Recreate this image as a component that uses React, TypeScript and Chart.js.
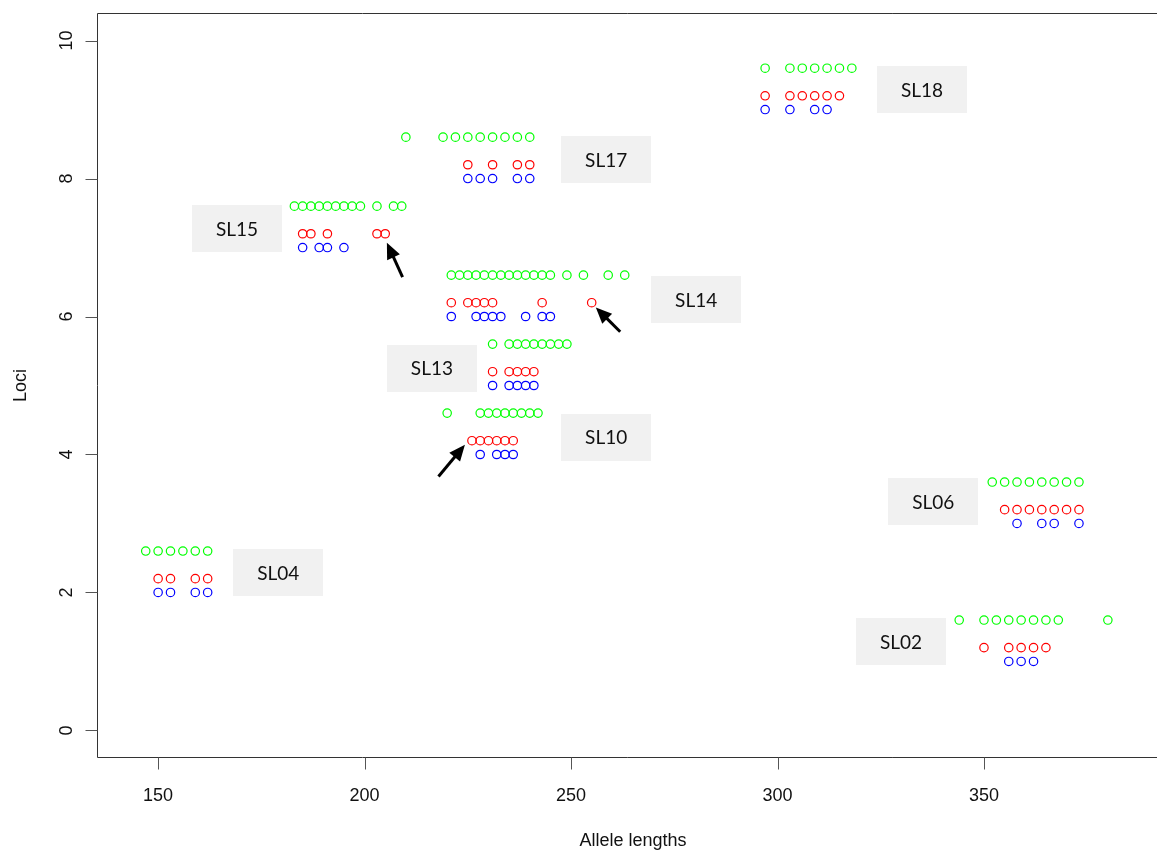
import React, { useEffect, useRef } from "react";
import { Chart, registerables } from "chart.js";

Chart.register(...registerables);

// ---- Data ----
const loci = ["SL02", "SL04", "SL06", "SL10", "SL13", "SL14", "SL15", "SL17", "SL18"];
const locusLevels = [1, 2, 3, 4, 5, 6, 7, 8, 9];

const greenAlleles = [
  [344, 350, 353, 356, 359, 362, 365, 368, 380],
  [147, 150, 153, 156, 159, 162],
  [352, 355, 358, 361, 364, 367, 370, 373],
  [220, 228, 230, 232, 234, 236, 238, 240, 242],
  [231, 235, 237, 239, 241, 243, 245, 247, 249],
  [221, 223, 225, 227, 229, 231, 233, 235, 237, 239, 241, 243, 245, 249, 253, 259, 263],
  [183, 185, 187, 189, 191, 193, 195, 197, 199, 203, 207, 209],
  [210, 219, 222, 225, 228, 231, 234, 237, 240],
  [297, 303, 306, 309, 312, 315, 318],
];
const redAlleles = [
  [350, 356, 359, 362, 365],
  [150, 153, 159, 162],
  [355, 358, 361, 364, 367, 370, 373],
  [226, 228, 230, 232, 234, 236],
  [231, 235, 237, 239, 241],
  [221, 225, 227, 229, 231, 243, 255],
  [185, 187, 191, 203, 205],
  [225, 231, 237, 240],
  [297, 303, 306, 309, 312, 315],
];
const blueAlleles = [
  [356, 359, 362],
  [150, 153, 159, 162],
  [358, 364, 367, 373],
  [228, 232, 234, 236],
  [231, 235, 237, 239, 241],
  [221, 227, 229, 231, 233, 239, 243, 245],
  [185, 189, 191, 195],
  [225, 228, 231, 237, 240],
  [297, 303, 309, 312],
];
const greenOffset = 0.6;
const redOffset = 0.2;
const blueOffset = 0;

// label anchors (data coordinates)
const labelX = [329.9, 179.1, 337.7, 258.5, 216.3, 280.3, 169.1, 258.5, 335.0];
const labelY = [1.29, 2.29, 3.32, 4.25, 5.25, 6.24, 7.27, 8.27, 9.29];

// arrows (data coordinates)
const arrowTipX = [205.4, 256.0, 224.3];
const arrowTipY = [7.07, 6.13, 4.14];
const arrowTailX = [209.2, 261.9, 217.9];
const arrowTailY = [6.57, 5.78, 3.68];

const xTicks = [150, 200, 250, 300, 350];
const yTicks = [0, 2, 4, 6, 8, 10];
const xMin = 135.2;
const xMax = 391.9;
const yMin = -0.4;
const yMax = 10.4;
const xTitle = "Allele lengths";
const yTitle = "Loci";

function buildPoints(alleles: number[][], offset: number) {
  const pts: { x: number; y: number }[] = [];
  alleles.forEach((row, i) => {
    row.forEach((v) => pts.push({ x: v, y: locusLevels[i] + offset }));
  });
  return pts;
}

const decorPlugin = {
  id: "decor",
  afterDraw(chart: any) {
    const ctx = chart.ctx as CanvasRenderingContext2D;
    const xs = chart.scales.x;
    const ys = chart.scales.y;
    const a = chart.chartArea;
    ctx.save();

    // box (left, top, bottom)
    ctx.strokeStyle = "#333";
    ctx.lineWidth = 1;
    ctx.beginPath();
    ctx.moveTo(a.right + 2, Math.round(a.top) + 0.5);
    ctx.lineTo(Math.round(a.left) + 0.5, Math.round(a.top) + 0.5);
    ctx.lineTo(Math.round(a.left) + 0.5, Math.round(a.bottom) - 0.5);
    ctx.lineTo(a.right + 2, Math.round(a.bottom) - 0.5);
    ctx.stroke();

    // ticks
    ctx.strokeStyle = "#555";
    ctx.beginPath();
    xTicks.forEach((t) => {
      const px = Math.round(xs.getPixelForValue(t)) + 0.5;
      ctx.moveTo(px, Math.round(a.bottom) - 0.5);
      ctx.lineTo(px, Math.round(a.bottom) + 11.5);
    });
    yTicks.forEach((t) => {
      const py = Math.round(ys.getPixelForValue(t)) + 0.5;
      ctx.moveTo(Math.round(a.left) + 0.5, py);
      ctx.lineTo(Math.round(a.left) - 11.5, py);
    });
    ctx.stroke();

    // tick labels
    ctx.fillStyle = "#111";
    ctx.font = "18px 'Liberation Sans', Arial, sans-serif";
    ctx.textAlign = "center";
    ctx.textBaseline = "alphabetic";
    xTicks.forEach((t) => {
      ctx.fillText(String(t), xs.getPixelForValue(t), 801);
    });
    yTicks.forEach((t) => {
      ctx.save();
      ctx.translate(72, ys.getPixelForValue(t));
      ctx.rotate(-Math.PI / 2);
      ctx.fillText(String(t), 0, 0);
      ctx.restore();
    });

    // axis titles
    ctx.fillText(xTitle, 633, 846);
    ctx.save();
    ctx.translate(25.5, (a.top + a.bottom) / 2);
    ctx.rotate(-Math.PI / 2);
    ctx.fillText(yTitle, 0, 0);
    ctx.restore();

    // locus label boxes
    const bw = 90;
    const bh = 47;
    loci.forEach((name, i) => {
      const cx = xs.getPixelForValue(labelX[i]);
      const cy = ys.getPixelForValue(labelY[i]);
      ctx.fillStyle = "#f1f1f1";
      ctx.fillRect(Math.round(cx - bw / 2), Math.round(cy - bh / 2), bw, bh);
      ctx.fillStyle = "#111";
      ctx.font = "19px Lato, 'Open Sans', sans-serif";
      ctx.textAlign = "center";
      ctx.textBaseline = "middle";
      ctx.fillText(name, cx, cy + 1);
    });

    // arrows
    ctx.strokeStyle = "#000";
    ctx.fillStyle = "#000";
    ctx.lineWidth = 3;
    arrowTipX.forEach((_, i) => {
      const tx = xs.getPixelForValue(arrowTipX[i]);
      const ty = ys.getPixelForValue(arrowTipY[i]);
      const sx = xs.getPixelForValue(arrowTailX[i]);
      const sy = ys.getPixelForValue(arrowTailY[i]);
      const ang = Math.atan2(ty - sy, tx - sx);
      const headLen = 16;
      const headHalf = 7;
      const bx = tx - headLen * Math.cos(ang);
      const by = ty - headLen * Math.sin(ang);
      ctx.beginPath();
      ctx.moveTo(sx, sy);
      ctx.lineTo(bx + 2 * Math.cos(ang), by + 2 * Math.sin(ang));
      ctx.stroke();
      ctx.beginPath();
      ctx.moveTo(tx, ty);
      ctx.lineTo(bx + headHalf * Math.sin(ang), by - headHalf * Math.cos(ang));
      ctx.lineTo(bx - headHalf * Math.sin(ang), by + headHalf * Math.cos(ang));
      ctx.closePath();
      ctx.fill();
    });

    ctx.restore();
  },
};

export default function App() {
  const canvasRef = useRef<HTMLCanvasElement | null>(null);

  useEffect(() => {
    if (!canvasRef.current) return;
    const pointStyle = {
      showLine: false,
      pointStyle: "circle" as const,
      pointRadius: 4.2,
      pointBorderWidth: 1.2,
      backgroundColor: "rgba(0,0,0,0)",
      pointBackgroundColor: "rgba(0,0,0,0)",
    };
    const chart = new Chart(canvasRef.current, {
      type: "scatter",
      data: {
        datasets: [
          { label: "green", data: buildPoints(greenAlleles, greenOffset), borderColor: "#00ff00", pointBorderColor: "#00ff00", ...pointStyle },
          { label: "red", data: buildPoints(redAlleles, redOffset), borderColor: "#ff0000", pointBorderColor: "#ff0000", ...pointStyle },
          { label: "blue", data: buildPoints(blueAlleles, blueOffset), borderColor: "#0000ff", pointBorderColor: "#0000ff", ...pointStyle },
        ],
      },
      options: {
        responsive: false,
        animation: false,
        events: [],
        layout: { autoPadding: false, padding: { left: 97, top: 13, right: 0, bottom: 95 } },
        plugins: { legend: { display: false }, tooltip: { enabled: false } },
        scales: {
          x: { type: "linear", min: xMin, max: xMax, display: false },
          y: { type: "linear", min: yMin, max: yMax, display: false },
        },
      },
      plugins: [decorPlugin],
    });
    return () => chart.destroy();
  }, []);

  return (
    <div style={{ position: "fixed", left: 0, top: 0, width: 1157, height: 853, background: "#fff" }}>
      <canvas ref={canvasRef} width={1157} height={853} style={{ display: "block" }} />
    </div>
  );
}
